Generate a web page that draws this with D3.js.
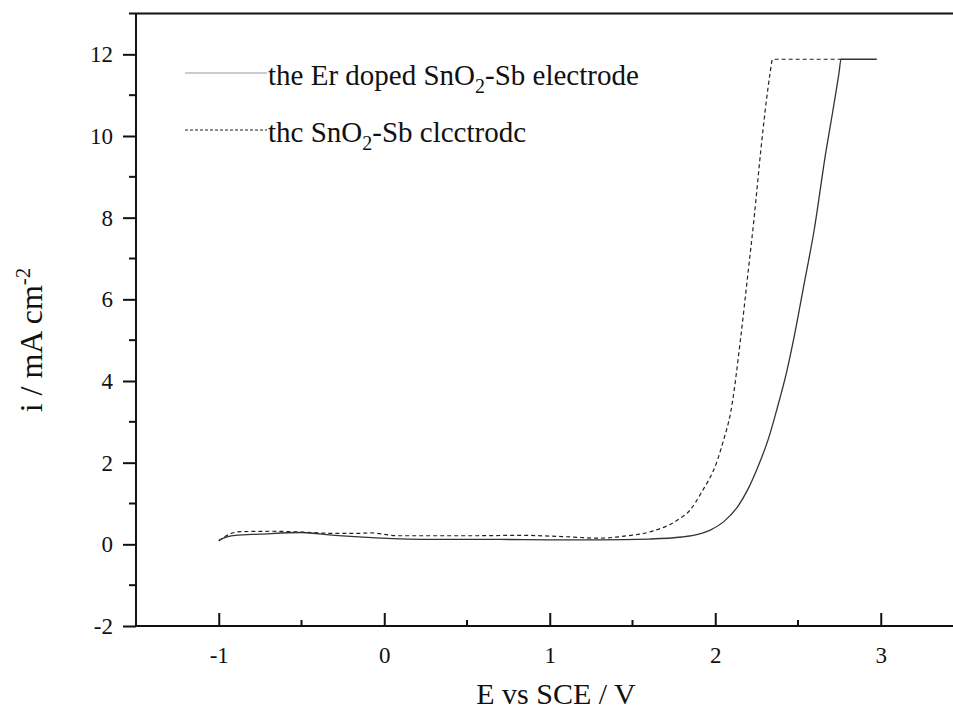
<!DOCTYPE html>
<html>
<head>
<meta charset="utf-8">
<script src="https://cdn.jsdelivr.net/npm/d3@7/dist/d3.min.js"></script>
<style>
  html, body { margin: 0; padding: 0; background: #fff; }
  svg { display: block; }
  text { font-family: "Liberation Serif", "Times New Roman", serif; fill: #111; }
</style>
</head>
<body>
<svg id="chart" width="953" height="717"></svg>
<script>
// Linear sweep voltammetry, current density vs potential
const erDopedE = [-1.00, -0.95, -0.90, -0.75, -0.50, -0.30, -0.05, 0.30, 0.70, 1.00, 1.30, 1.60, 1.80, 1.90, 1.97, 2.05, 2.14, 2.20, 2.255, 2.32, 2.376, 2.43, 2.476, 2.537, 2.597, 2.668, 2.71, 2.748, 2.76, 2.85, 2.976];
const erDopedI = [0.10, 0.18, 0.22, 0.25, 0.29, 0.22, 0.16, 0.12, 0.12, 0.11, 0.11, 0.13, 0.18, 0.25, 0.35, 0.55, 0.95, 1.37, 1.87, 2.57, 3.36, 4.20, 5.07, 6.38, 7.68, 9.60, 10.60, 11.55, 11.88, 11.88, 11.88];

const plainE = [-1.00, -0.95, -0.87, -0.69, -0.50, -0.32, -0.15, -0.08, 0.08, 0.30, 0.52, 0.82, 1.13, 1.29, 1.45, 1.61, 1.77, 1.85, 1.912, 2.013, 2.05, 2.094, 2.154, 2.195, 2.235, 2.275, 2.31, 2.33, 2.347, 2.45, 2.78];
const plainI = [0.08, 0.22, 0.31, 0.32, 0.30, 0.27, 0.27, 0.28, 0.21, 0.21, 0.21, 0.22, 0.18, 0.15, 0.20, 0.31, 0.59, 0.85, 1.24, 2.06, 2.55, 3.25, 5.07, 6.54, 8.00, 9.64, 10.90, 11.50, 11.88, 11.88, 11.88];

const xTicks = [-1, 0, 1, 2, 3];
const yTicks = [-2, 0, 2, 4, 6, 8, 10, 12];
const xMinorTicks = [-1.5, -0.5, 0.5, 1.5, 2.5, 3.5];
const yMinorTicks = [-1, 1, 3, 5, 7, 9, 11, 13];

const svg = d3.select("#chart");
const plotL = 136, plotR = 963.5, plotT = 13.5, plotB = 626;

const x = d3.scaleLinear().domain([-1.5, 3.5]).range([plotL, plotR]);
const y = d3.scaleLinear().domain([-2, 13]).range([plotB, plotT]);

const fmt = d => String(d);

// frame: top line runs off the right edge, left and bottom are axes
svg.append("line").attr("x1", plotL).attr("x2", plotR).attr("y1", plotT).attr("y2", plotT)
  .attr("stroke", "#111").attr("stroke-width", 2);

// x axis (ticks point inward)
const xAxis = svg.append("g").attr("transform", `translate(0,${plotB})`)
  .call(d3.axisBottom(x).tickValues(xTicks).tickSize(-13).tickPadding(21).tickFormat(fmt));
xAxis.append("g").selectAll("line").data(xMinorTicks).join("line")
  .attr("x1", d => x(d)).attr("x2", d => x(d)).attr("y1", 0).attr("y2", -6)
  .attr("stroke", "#111").attr("stroke-width", 2);

// y axis (ticks point outward)
const yAxis = svg.append("g").attr("transform", `translate(${plotL},0)`)
  .call(d3.axisLeft(y).tickValues(yTicks).tickSize(13).tickPadding(10).tickFormat(fmt));
yAxis.append("g").selectAll("line").data(yMinorTicks).join("line")
  .attr("x1", 0).attr("x2", -7).attr("y1", d => y(d)).attr("y2", d => y(d))
  .attr("stroke", "#111").attr("stroke-width", 2);

[xAxis, yAxis].forEach(g => {
  g.select(".domain").attr("stroke", "#111").attr("stroke-width", 2);
  g.selectAll(".tick line").attr("stroke", "#111").attr("stroke-width", 2);
  g.selectAll(".tick text").attr("font-size", 23)
    .style("font-family", '"Liberation Serif", serif').attr("fill", "#111");
});
yAxis.select(".domain").attr("d", `M0,${plotB}V${plotT}`);
xAxis.select(".domain").attr("d", `M${plotL},0H${plotR}`);

// curves
const line = d3.line().x(d => x(d[0])).y(d => y(d[1])).curve(d3.curveMonotoneX);
const erData = erDopedE.map((e, i) => [e, erDopedI[i]]);
const plainData = plainE.map((e, i) => [e, plainI[i]]);

svg.append("path").datum(plainData).attr("d", line)
  .attr("fill", "none").attr("stroke", "#222").attr("stroke-width", 1.2)
  .attr("stroke-dasharray", "4,3");
svg.append("path").datum(erData).attr("d", line)
  .attr("fill", "none").attr("stroke", "#333").attr("stroke-width", 1.3);

// legend
const legend = svg.append("g");
const legendRows = [
  { yLine: 73, dash: null, stroke: "#999", pre: "the Er doped SnO", post: "-Sb electrode" },
  { yLine: 130, dash: "3,2", stroke: "#222", pre: "thc SnO", post: "-Sb clcctrodc" }
];
legendRows.forEach(r => {
  legend.append("line").attr("x1", 185).attr("x2", 267).attr("y1", r.yLine).attr("y2", r.yLine)
    .attr("stroke", r.stroke).attr("stroke-width", 1.2)
    .attr("stroke-dasharray", r.dash);
  const t = legend.append("text").attr("x", 268).attr("y", r.yLine + 12).attr("font-size", 29);
  t.append("tspan").text(r.pre);
  t.append("tspan").attr("dy", 8).attr("font-size", 20).text("2");
  t.append("tspan").attr("dy", -8).text(r.post);
});

// axis titles
svg.append("text").attr("x", 556).attr("y", 704).attr("text-anchor", "middle")
  .attr("font-size", 30).text("E vs SCE / V");

const yt = svg.append("text").attr("transform", "translate(42,340) rotate(-90)")
  .attr("text-anchor", "middle").attr("font-size", 32);
yt.append("tspan").text("i / mA cm");
yt.append("tspan").attr("dy", -12).attr("font-size", 21).text("-2");
</script>
</body>
</html>
